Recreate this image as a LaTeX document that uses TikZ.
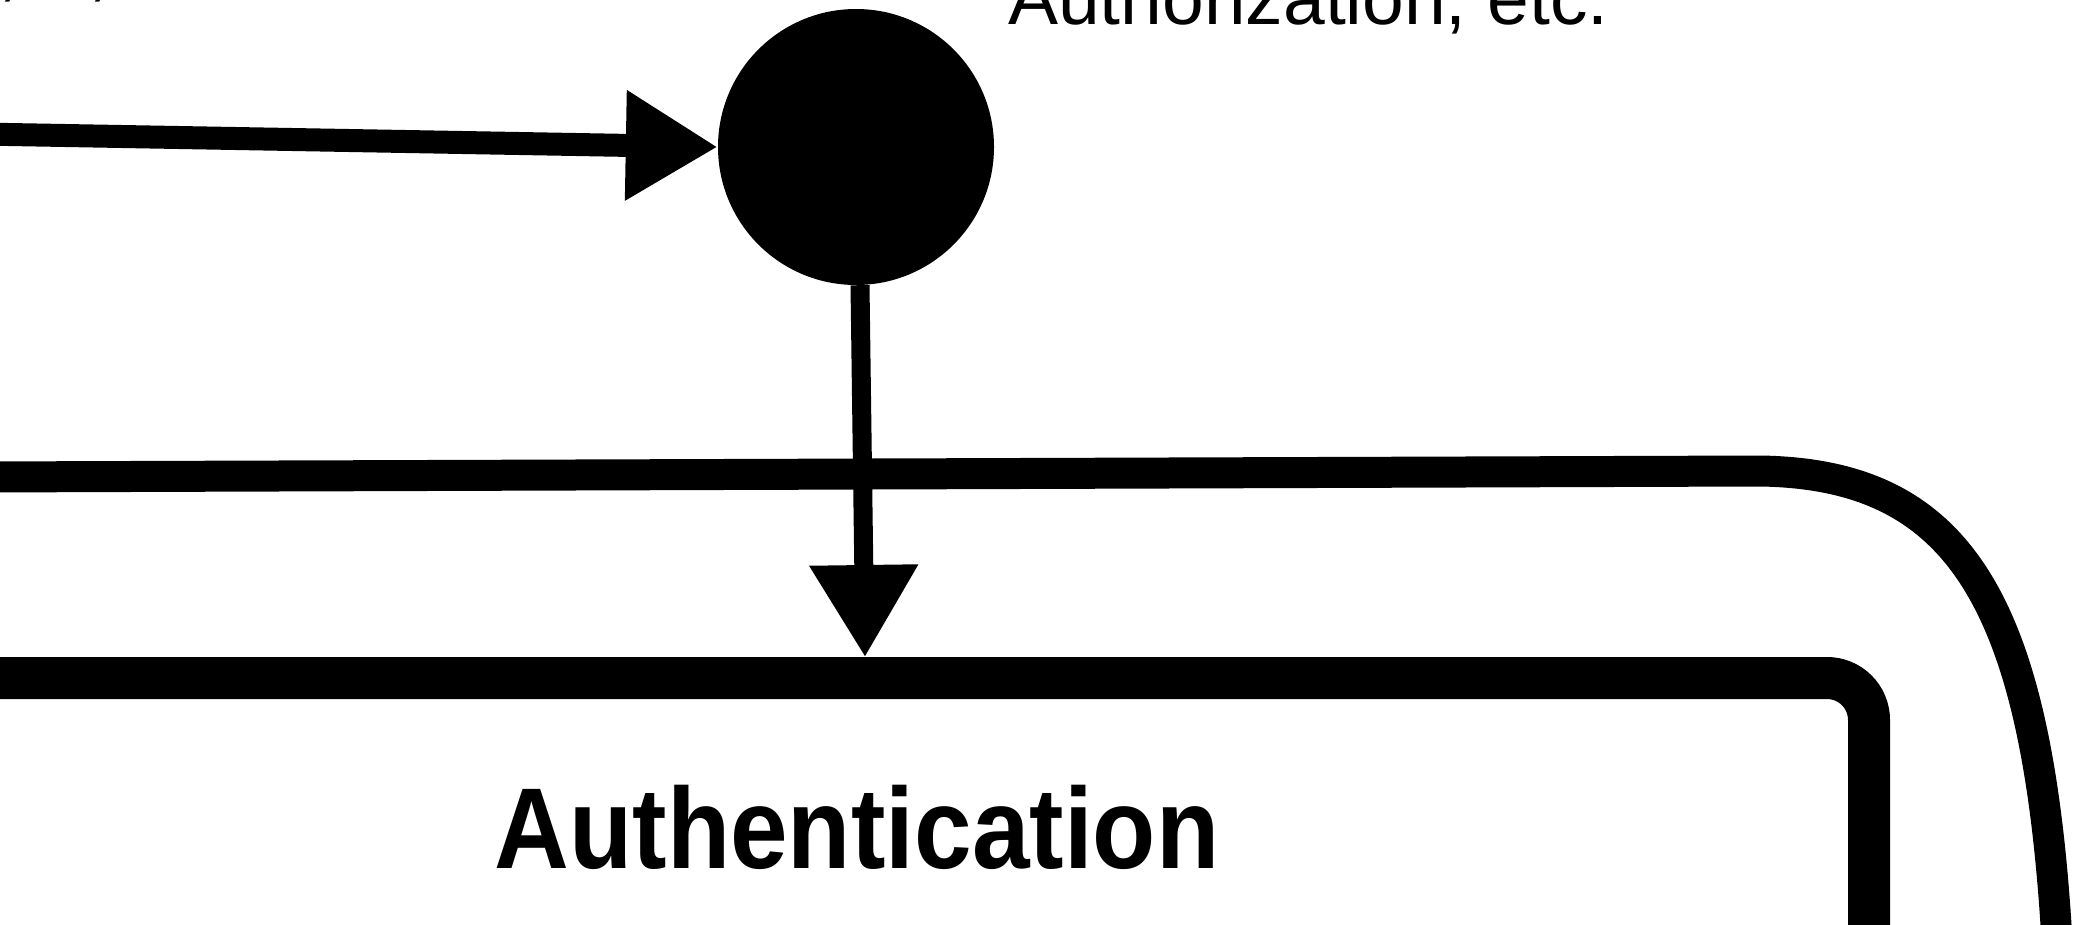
\documentclass[tikz,border=0pt]{standalone}
\usepackage{fontspec}
\setmainfont{Liberation Sans}
\usetikzlibrary{arrows.meta}
\begin{document}
\begin{tikzpicture}[x=1pt,y=-1pt,
  thickline/.style={line width=#1, line cap=round, line join=round},
  bighead/.style={-{Triangle[length=92pt,width=104pt]}},
  labeltext/.style={font=\fontsize{75}{80}\selectfont, inner sep=0pt},
  titletext/.style={font=\bfseries\fontsize{115}{116}\selectfont, inner sep=0pt, xscale=0.9}
]
\useasboundingbox (0,0) rectangle (2080,924);
\clip (0,0) rectangle (2080,924);
\fill[white] (0,0) rectangle (2080,924);

% cut-off text fragments at the top
\node[labeltext, anchor=base west] (frag1) at (-2,-8) {,};
\node[labeltext, anchor=base west] (frag2) at (88,-8) {,};
\node[labeltext, anchor=base west] (authz) at (1008,24) {Authorization, etc.};

% junction dot
\node[circle, fill=black, minimum size=276pt, inner sep=0pt] (dot) at (856,147) {};

% outer frame line
\coordinate (outerL) at (-20,477);
\coordinate (outerC) at (1760,471);
\coordinate (outerB) at (2058,960);
\draw[thickline=31pt] (outerL) -- (outerC) .. controls (1960,474) and (2040,600) .. (outerB);

% inner box
\node[draw, line width=42pt, rounded corners=42pt, minimum width=1969pt, minimum height=422pt, inner sep=0pt] (authbox) at (884.5,889) {};
\node[titletext, anchor=base] (authtitle) at (857,868) {Authentication};

% incoming arrow
\coordinate (inL) at (-20,134);
\draw[thickline=23pt, bighead] (inL) -- (dot.west);

% arrow down into box
\draw[line width=19pt, bighead] ([xshift=4pt]dot.south) -- ([xshift=9pt]dot.south |- authbox.north);
\end{tikzpicture}
\end{document}
